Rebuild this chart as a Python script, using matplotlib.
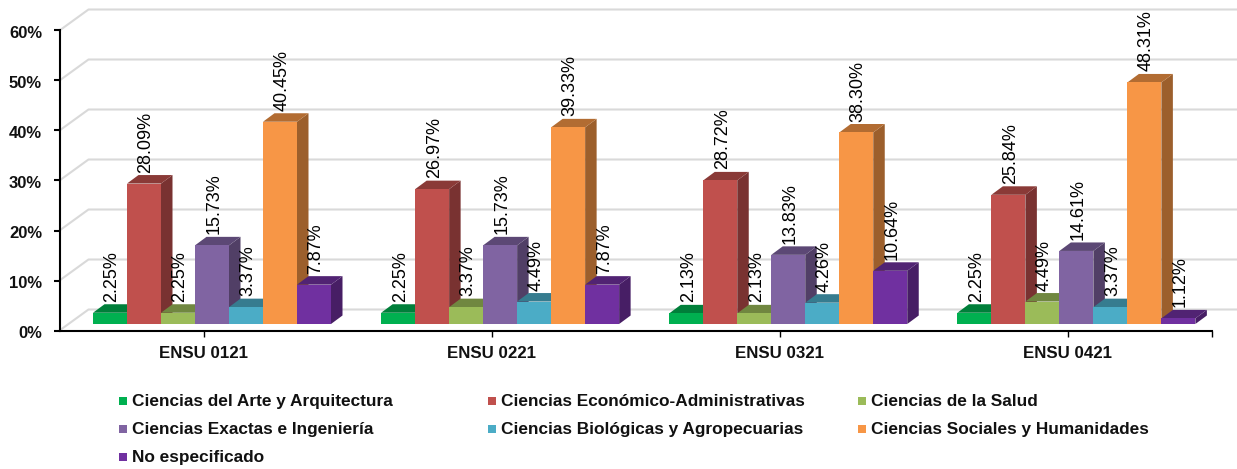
import numpy as np
import matplotlib
matplotlib.use("Agg")
import matplotlib.pyplot as plt
from matplotlib.patches import Polygon, Rectangle
from matplotlib.colors import to_rgb
from matplotlib.transforms import ScaledTranslation

plt.rcParams['font.family'] = ['Liberation Sans', 'DejaVu Sans']

categories = ['ENSU 0121', 'ENSU 0221', 'ENSU 0321', 'ENSU 0421']
series = ['Ciencias del Arte y Arquitectura',
          'Ciencias Económico-Administrativas',
          'Ciencias de la Salud',
          'Ciencias Exactas e Ingeniería',
          'Ciencias Biológicas y Agropecuarias',
          'Ciencias Sociales y Humanidades',
          'No especificado']
arte = [2.25, 2.25, 2.13, 2.25]
economico = [28.09, 26.97, 28.72, 25.84]
salud = [2.25, 3.37, 2.13, 4.49]
exactas = [15.73, 15.73, 13.83, 14.61]
biologicas = [3.37, 4.49, 4.26, 3.37]
sociales = [40.45, 39.33, 38.30, 48.31]
no_esp = [7.87, 7.87, 10.64, 1.12]
values = [arte, economico, salud, exactas, biologicas, sociales, no_esp]
colors = ['#00B050', '#C0504D', '#9BBB59', '#8064A2', '#4BACC6', '#F79646', '#7030A0']
yticks = [0, 10, 20, 30, 40, 50, 60]

W, H = 1237, 469
fig = plt.figure(figsize=(W / 100, H / 100), dpi=100)

# axes box in pixels
x0, x1 = 59.5, 1212
y0, y1 = 330.5, 30.5
ax = fig.add_axes([x0 / W, 1 - y0 / H, (x1 - x0) / W, (y0 - y1) / H])
ax.set_xlim(0, 4)
ax.set_ylim(0, 60)

# pixels to data units
ux = (x1 - x0) / 4
uy = (y0 - y1) / 60


def shade(c, f):
    return tuple(v * f for v in to_rgb(c))


# back wall grid
wall_x = 29 / ux
wall_y = 21 / uy
right_x = (1238 - x0) / ux
for t in yticks:
    ax.plot([0, wall_x, right_x], [t, t + wall_y, t + wall_y], color='#d9d9d9',
            lw=1.5, clip_on=False, zorder=1)

# bars
bar_w = 34 / ux
dep_x = 11.5 / ux
dep_y = 8.5 / uy
base = 6.5 / uy
left = 33.5 / ux
for g in range(4):
    for s in range(7):
        xs = g + left + s * bar_w
        v = values[s][g]
        top = base + v
        r = xs + bar_w
        ax.add_patch(Polygon([(r, base), (r + dep_x, base + dep_y), (r + dep_x, top + dep_y), (r, top)],
                             color=shade(colors[s], 0.63), lw=0, clip_on=False, zorder=3 + s))
        ax.add_patch(Polygon([(xs, top), (xs + dep_x, top + dep_y), (r + dep_x, top + dep_y), (r, top)],
                             color=shade(colors[s], 0.72), lw=0, clip_on=False, zorder=3 + s))
        ax.bar(xs, v, width=bar_w, bottom=base, align='edge', color=colors[s], lw=0,
               clip_on=False, zorder=3 + s)

# value labels
for g in range(4):
    for s in range(7):
        xs = g + left + s * bar_w
        v = values[s][g]
        ax.text(xs + bar_w / 2 + 2 / ux, base + v + dep_y + 2.5 / uy, f'{v:.2f}%', rotation=90,
                ha='center', va='bottom', fontsize=13, color='#000000', zorder=20, clip_on=False)

for side in ['top', 'right']:
    ax.spines[side].set_visible(False)
for side in ['left', 'bottom']:
    ax.spines[side].set_linewidth(1.5)
    ax.spines[side].set_zorder(15)

ax.set_yticks(yticks)
ax.set_yticklabels([f'{t}%' for t in yticks], fontsize=12, fontweight='bold', color='#111111')
ax.set_xticks([0.5, 1.5, 2.5, 3.5])
ax.set_xticklabels(categories, fontsize=12.2, fontweight='bold', color='#111111')
ax.set_xticks([4], minor=True)
ax.tick_params(axis='y', length=4, width=1.5, pad=8.5)
ax.tick_params(axis='x', which='both', length=4, width=1, pad=7.5)

# y labels sit a little below their ticks
for lab in ax.get_yticklabels():
    lab.set_transform(lab.get_transform() + ScaledTranslation(0, -1.5 / 100, fig.dpi_scale_trans))

# legend, filled row by row
legend_x = [119, 488, 858]
legend_y = [401, 429, 457]
for i, name in enumerate(series):
    lx = legend_x[i % 3]
    ly = legend_y[i // 3]
    fig.add_artist(Rectangle((lx / W, 1 - (ly + 4) / H), 8 / W, 8 / H, color=colors[i], lw=0,
                             transform=fig.transFigure))
    fig.text((lx + 13) / W, 1 - ly / H, name, fontsize=12.4, fontweight='bold', color='#111111',
             va='center', ha='left')

fig.savefig('out.png', dpi=100)
